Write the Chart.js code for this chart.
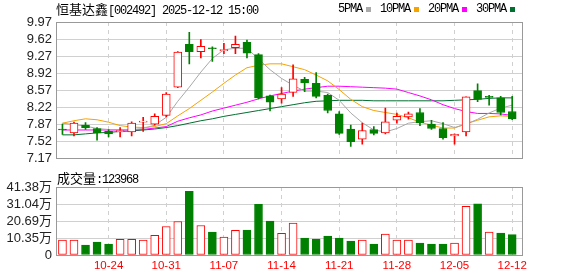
<!DOCTYPE html>
<html>
<head>
<meta charset="utf-8">
<script src="https://cdn.jsdelivr.net/npm/chart.js@4/dist/chart.umd.min.js"></script>
<style>
body { margin: 0; background: #fff; width: 578px; height: 276px; overflow: hidden; position: relative; font-family: 'Noto Sans CJK SC', 'Liberation Sans', sans-serif; }
canvas { position: absolute; left: 0; }
#kline { top: 0; }
#vol { top: 170px; }
.lbl { position: absolute; white-space: nowrap; color: #000; line-height: 1; }
.lbl b { font-weight: normal; font-family: 'Liberation Mono', monospace; font-size: 12px; letter-spacing: -1.2px; }
#title { left: 56px; top: 2px; font-size: 13px; }
#volTitle { left: 57px; top: 171px; font-size: 13px; }
#legend { left: 338px; top: 3px; font-family: 'Liberation Mono', monospace; font-size: 12px; letter-spacing: -1.2px; display: flex; align-items: center; }
#legend i { display: inline-block; width: 5px; height: 5px; margin: 0 9px 0 4px; }
</style>
</head>
<body>
<canvas id="kline" width="578" height="170"></canvas>
<canvas id="vol" width="578" height="106"></canvas>
<div class="lbl" id="title">恒基达鑫<b>[002492] 2025-12-12 15:00</b></div>
<div class="lbl" id="legend">5PMA<i style="background:#aaaaaa"></i>10PMA<i style="background:#f5a300"></i>20PMA<i style="background:#ff00ff"></i>30PMA<i style="background:#006f2f"></i></div>
<div class="lbl" id="volTitle">成交量<b>:123968</b></div>
<script>
// trading days 10-20 .. 12-12, labels only on fridays
var tickAt = [4, 9, 14, 19, 24, 29, 34, 39]
var tickDays = ['10-24', '10-31', '11-07', '11-14', '11-21', '11-28', '12-05', '12-12']
var priceTicks = [7.17, 7.52, 7.87, 8.22, 8.57, 8.92, 9.27, 9.62, 9.97]
var volTicks = [0, 103450, 206900, 310350, 413800]

var open  = [7.75, 7.69, 7.85, 7.78, 7.72, 7.71, 7.71, 7.91, 7.87, 8.05,
             8.63, 9.51, 9.36, 9.44, 9.38, 9.44, 9.55, 9.30, 8.45, 8.39,
             8.52, 8.79, 8.71, 8.46, 8.08, 7.77, 7.56, 7.76, 7.69, 7.95,
             8.02, 8.11, 7.87, 7.78, 7.63, 7.71, 8.56, 8.42, 8.41, 8.13]
var high  = [7.87, 7.91, 7.90, 7.80, 7.76, 7.80, 7.92, 8.01, 8.08, 8.52,
             9.36, 9.76, 9.61, 9.46, 9.53, 9.68, 9.60, 9.32, 8.47, 8.62,
             9.09, 8.83, 8.93, 8.49, 8.13, 7.85, 7.89, 7.82, 8.20, 8.10,
             8.12, 8.19, 7.95, 7.90, 7.67, 8.43, 8.70, 8.46, 8.44, 8.44]
var low   = [7.66, 7.63, 7.76, 7.54, 7.61, 7.61, 7.63, 7.72, 7.85, 8.02,
             8.62, 9.11, 9.23, 9.16, 9.32, 9.32, 9.23, 8.39, 8.14, 8.30,
             8.44, 8.54, 8.41, 8.10, 7.66, 7.41, 7.46, 7.65, 7.67, 7.89,
             7.97, 7.84, 7.76, 7.56, 7.46, 7.63, 8.33, 8.26, 8.06, 7.96]
var close = [7.75, 7.89, 7.80, 7.69, 7.67, 7.74, 7.89, 7.93, 8.03, 8.49,
             9.35, 9.36, 9.47, 9.42, 9.40, 9.51, 9.33, 8.41, 8.32, 8.49,
             8.80, 8.72, 8.44, 8.15, 7.68, 7.51, 7.74, 7.68, 7.92, 8.03,
             8.08, 7.90, 7.78, 7.59, 7.66, 8.43, 8.38, 8.42, 8.11, 7.98]

var volume = [90800, 90800, 60600, 78700, 66600, 94900, 94900, 90800, 119100, 173600,
              203900, 387600, 179700, 139300, 109000, 149400, 151400, 308800, 205900, 131200,
              194000, 102900, 96900, 115000, 102900, 84800, 90800, 66600, 127200, 90800,
              90800, 72700, 66600, 66600, 72700, 296700, 310900, 139300, 133200, 123968]

var ma5  = [7.89, 7.86, 7.83, 7.78, 7.76, 7.76, 7.76, 7.78, 7.85, 8.01,
            8.34, 8.63, 8.94, 9.22, 9.40, 9.43, 9.43, 9.21, 8.99, 8.81,
            8.67, 8.55, 8.55, 8.52, 8.36, 8.10, 7.90, 7.75, 7.71, 7.78,
            7.89, 7.92, 7.94, 7.88, 7.80, 7.87, 7.97, 8.10, 8.20, 8.26]
var ma10 = [7.89, 7.94, 7.98, 7.96, 7.91, 7.84, 7.81, 7.80, 7.82, 7.88,
            8.04, 8.19, 8.36, 8.53, 8.71, 8.88, 9.03, 9.08, 9.11, 9.11,
            9.05, 8.99, 8.88, 8.76, 8.58, 8.38, 8.23, 8.15, 8.11, 8.07,
            8.00, 7.91, 7.85, 7.79, 7.79, 7.88, 7.95, 8.02, 8.04, 8.03]
var ma20 = [7.75, 7.75, 7.75, 7.75, 7.75, 7.75, 7.75, 7.76, 7.79, 7.82,
            7.93, 8.00, 8.06, 8.14, 8.20, 8.26, 8.32, 8.39, 8.45, 8.50,
            8.55, 8.59, 8.62, 8.65, 8.65, 8.64, 8.63, 8.62, 8.61, 8.59,
            8.52, 8.45, 8.37, 8.27, 8.19, 8.13, 8.09, 8.09, 8.08, 8.05]
var ma30 = [7.65, 7.65, 7.67, 7.69, 7.70, 7.72, 7.73, 7.75, 7.77, 7.80,
            7.84, 7.89, 7.94, 7.98, 8.03, 8.07, 8.11, 8.15, 8.19, 8.23,
            8.27, 8.31, 8.34, 8.35, 8.36, 8.36, 8.36, 8.35, 8.35, 8.35,
            8.35, 8.35, 8.35, 8.35, 8.36, 8.37, 8.38, 8.40, 8.41, 8.41]

var upColor = '#ff0000'
var downColor = '#008000'
var gridColor = '#d0d0d0'
var xMin = -0.56
var xMax = 39.85

var idx = open.map(function (v, i) { return i })
var candleColor = idx.map(function (i) { return close[i] > open[i] ? upColor : downColor })
var candleFill = idx.map(function (i) { return close[i] > open[i] ? '#fff' : downColor })
var volUp = idx.map(function (i) { return close[i] >= open[i] })

var framePlugin = {
	id: 'frame',
	afterDraw: function (chart) {
		var a = chart.chartArea
		var c = chart.ctx
		c.save()
		c.strokeStyle = '#999'
		c.lineWidth = 1
		c.strokeRect(Math.round(a.left) + 0.5, Math.round(a.top) + 0.5, Math.round(a.right - a.left), Math.round(a.bottom - a.top))
		c.restore()
	}
}

function maLine(values, color) {
	return {
		type: 'line',
		data: values.map(function (v, i) { return { x: i, y: v } }),
		borderColor: color,
		borderWidth: 1,
		pointRadius: 0,
		tension: 0,
		order: 3,
	}
}

function xScale(showLabels) {
	return {
		type: 'linear',
		min: xMin,
		max: xMax,
		offset: false,
		afterBuildTicks: function (s) { s.ticks = tickAt.map(function (v) { return { value: v } }) },
		afterFit: function (s) { s.height = showLabels ? 21 : 0 },
		ticks: {
			display: showLabels,
			autoSkip: false,
			maxRotation: 0,
			padding: 4,
			color: upColor,
			font: { family: 'Liberation Sans', size: 11.5 },
			callback: function (v) { return tickDays[tickAt.indexOf(v)] },
		},
		grid: { color: gridColor, drawTicks: false, offset: false },
		border: { display: false, dash: [4, 4] },
	}
}

function yScale(lo, hi, list, fmt) {
	return {
		min: lo,
		max: hi,
		afterBuildTicks: function (s) { s.ticks = list.map(function (v) { return { value: v } }) },
		afterFit: function (s) { s.width = 56 },
		ticks: {
			autoSkip: false,
			padding: 4,
			color: '#222',
			font: { family: "'Liberation Sans', 'Noto Sans CJK SC'", size: 13 },
			callback: fmt,
		},
		grid: { color: gridColor, drawTicks: false },
		border: { display: false },
	}
}

var klineChart = new Chart(document.getElementById('kline'), {
	type: 'bar',
	data: {
		datasets: [{
			data: idx.map(function (i) { return { x: i, y: [open[i], close[i]] } }),
			backgroundColor: candleFill,
			borderColor: candleColor,
			borderWidth: 1,
			borderSkipped: false,
			barThickness: 8,
			minBarLength: 1,
			grouped: false,
			order: 1,
		}, {
			data: idx.map(function (i) { return { x: i, y: [low[i], high[i]] } }),
			backgroundColor: candleColor,
			barThickness: 1,
			grouped: false,
			order: 2,
		},
		maLine(ma5, '#a8a8a8'),
		maLine(ma10, '#f5a300'),
		maLine(ma20, '#ff00ff'),
		maLine(ma30, '#006f2f')]
	},
	options: {
		responsive: false,
		animation: false,
		layout: { padding: { left: 0, right: 56, top: 22, bottom: 5 } },
		plugins: { legend: { display: false }, tooltip: { enabled: false } },
		scales: {
			x: xScale(false),
			y: yScale(7.17, 9.97, priceTicks, function (v) { return v.toFixed(2) })
		}
	},
	plugins: [framePlugin]
})

var volChart = new Chart(document.getElementById('vol'), {
	type: 'bar',
	data: {
		datasets: [{
			data: idx.map(function (i) { return { x: i, y: volume[i] } }),
			backgroundColor: idx.map(function (i) { return volUp[i] ? '#fff' : downColor }),
			borderColor: idx.map(function (i) { return volUp[i] ? upColor : downColor }),
			borderWidth: 1,
			borderSkipped: false,
			barThickness: 8,
			grouped: false,
		}]
	},
	options: {
		responsive: false,
		animation: false,
		layout: { padding: { left: 0, right: 56, top: 17, bottom: 0 } },
		plugins: { legend: { display: false }, tooltip: { enabled: false } },
		scales: {
			x: xScale(true),
			y: yScale(0, 413800, volTicks, function (v) { return v === 0 ? '0' : (v / 10000).toFixed(2) + '万' })
		}
	},
	plugins: [framePlugin]
})
</script>
</body>
</html>
